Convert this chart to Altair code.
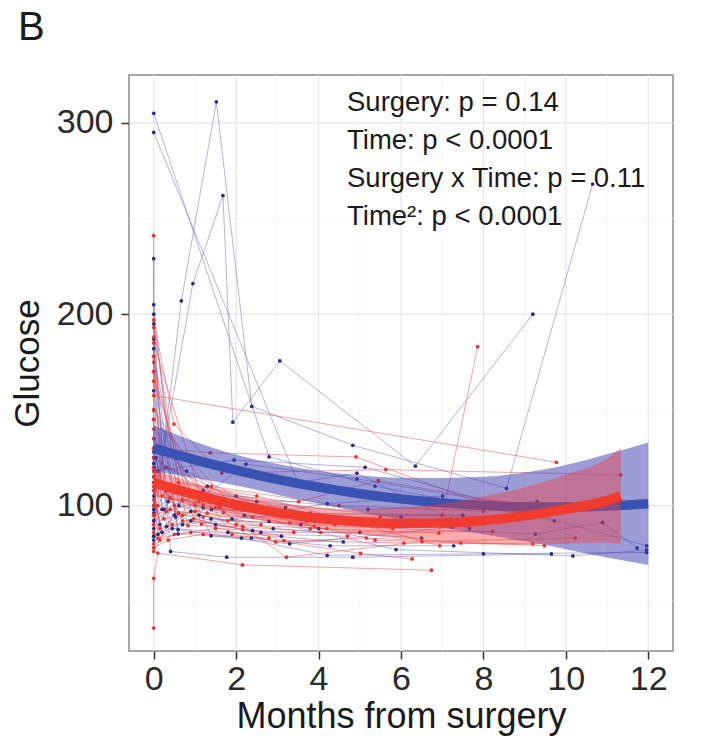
import altair as alt
import pandas as pd

# ---- individual patient trajectories (months, glucose) ----
BLUE_MONTHS = [
    [0, 2.8, 5.37, 9.72],
    [0, 3.5, 4.93, 7.66],
    [0, 0.67, 1.52, 2.38, 4.83, 8.56, 10.65],
    [0, 0.95, 1.68, 1.92, 3.06, 6.35, 9.2],
    [0, 0, 1.95, 5.13, 11.96],
    [0, 0.53, 2.24, 4.93, 9.9],
    [0, 0.31, 1.39, 3.57, 9.26, 10.89, 11.73],
    [0, 0.61, 2.8, 5.88, 10.17, 11.96],
    [0, 0.41, 1.77, 4.83, 9.65],
    [0, 0.59, 2.13, 4.21, 8.0, 11.96],
    [0, 0.59, 2.37, 4.28, 7.28],
    [0, 1.39, 3.3, 7.24],
    [0, 1.9, 4.21, 7.01],
    [0, 1.2, 3.8, 7.5],
    [0, 0.8, 2.0, 5.2, 9.3],
    [0, 0.25, 1.0, 3.2],
    [0, 0.15, 0.5, 2.5, 6.0],
    [0, 0, 1.3, 4.0],
    [0, 0, 0.9, 2.6, 5.0],
    [0, 0.4, 1.6, 3.9, 8.1],
    [0, 0, 0.7, 3.0],
    [0, 0.2, 1.1, 2.9, 6.5],
    [0, 0.1, 0.6, 1.5, 3.1],
    [0, 0.05, 0.45, 1.8, 4.6],
    [0, 0.3, 1.2, 2.2, 5.5],
    [0, 0.2, 0.9, 2.4],
    [0, 0.35, 1.4, 3.0, 8.9],
    [0, 0.1, 0.5],
]
BLUE_GLUCOSE = [
    [305, 125.5, 110.2, 92],
    [295, 112, 116.9, 88],
    [88, 207, 311, 151.8, 131.5, 109, 268],
    [100, 216, 262, 143.6, 175.6, 120.6, 200],
    [229, 118, 123.8, 120, 79],
    [205, 94, 121.6, 113.9, 96],
    [200, 89, 93, 90, 85.1, 91.2, 77.8],
    [195, 100, 91.7, 77, 73.7, 76.8],
    [187, 76, 73, 73, 74.7],
    [178, 87.4, 83, 74, 74.8, 75.5],
    [170, 85.2, 83, 79, 79],
    [150, 84.2, 80, 88.7],
    [135, 93, 101, 105],
    [125, 108, 96, 95],
    [120, 118, 105, 98, 102],
    [112, 98, 105, 99],
    [108, 90, 110, 102, 94],
    [145, 92, 110, 88],
    [128, 84, 97, 86, 86],
    [98, 104, 100, 92, 92],
    [115, 82, 90, 95],
    [105, 86, 95, 88, 83],
    [92, 118, 96, 90, 84],
    [84, 125, 88, 86, 81],
    [96, 108, 99, 95, 90],
    [182, 98, 92, 87],
    [160, 102, 98, 96, 94],
    [122, 85, 95],
]
RED_MONTHS = [
    [0, 9.77],
    [0, 0, 1.37, 4.91, 7.84],
    [0, 0.49, 1.65, 5.63, 11.33],
    [0, 0.69, 3.52, 5.45, 9.9],
    [0, 1.2, 3.8, 6.92, 7.86],
    [0, 0.83, 2.16, 4.05, 8.22],
    [0, 0.97, 2.16, 3.16, 6.07, 9.2],
    [0, 1.16, 2.96, 5.16, 9.48],
    [0, 1.69, 3.22, 6.51, 10.23],
    [0, 1.97, 3.9, 5.37, 7.45],
    [0, 1.9, 5.02, 6.27],
    [0, 0, 0.1, 2.15, 6.74],
    [0, 0.6, 2.5, 6.94],
    [0, 0.3, 1.4, 4.5, 8.0],
    [0, 0.2, 1.0, 3.0, 6.2],
    [0, 0, 0.4, 1.8, 4.4],
    [0, 0.15, 0.7, 2.4, 5.8],
    [0, 0, 0.5, 1.5, 3.4],
    [0, 0, 0.35, 1.2, 2.8],
    [0, 0.25, 1.0, 3.3, 7.2],
    [0, 0, 0.8, 2.2],
    [0, 0.1, 0.9, 4.7],
    [0, 0.05, 0.5, 1.3, 2.6],
    [0, 0.2, 0.7, 2.0, 4.2],
    [0, 0.1, 0.6, 1.6, 3.7],
    [0, 0.3, 1.1, 2.7, 5.5],
    [0, 0.15, 0.45, 1.2],
    [0, 0.4, 1.5, 3.6, 7.0],
]
RED_GLUCOSE = [
    [157.5, 122.6],
    [241, 130, 127.6, 125.4, 102],
    [197, 142.6, 117, 118.8, 116],
    [193, 103, 102, 113, 96.5],
    [185, 100.4, 88, 85.6, 183],
    [178, 89.5, 89, 86, 86.5],
    [170, 93, 87.4, 81.7, 80.4, 80],
    [165, 90.3, 81, 83, 79],
    [150, 96.4, 73, 81.2, 83],
    [145, 98.6, 89, 82, 80.4],
    [140, 85, 75, 72.1],
    [36, 62, 75.2, 69, 66.2],
    [135, 112, 105, 79],
    [125, 120, 110, 100, 97],
    [120, 105, 100, 95, 92],
    [115, 95, 98, 92, 90],
    [110, 88, 95, 94, 88],
    [103, 80, 85, 88, 86],
    [130, 78, 82, 85, 83],
    [100, 93, 97, 91, 93],
    [112, 76, 108, 100],
    [108, 83, 86, 84],
    [95, 118, 100, 96, 90],
    [188, 110, 92, 90, 88],
    [90, 100, 96, 99, 92],
    [86, 97, 102, 96, 94],
    [175, 82, 90, 94],
    [118, 104, 99, 93, 95],
]

# ---- fitted quadratic curves with confidence bands ----
FIT_BLUE_MONTHS = [0, 1, 2, 3, 4, 5, 6, 7, 8, 9, 10, 11, 12]
FIT_BLUE = [130, 123.9, 118.5, 113.7, 109.6, 106.2, 103.5, 101.4, 100.0, 99.3, 99.2, 99.8, 101]
FIT_BLUE_LOW = [118, 114.4, 110.5, 105.7, 101.1, 96.7, 92.5, 88.4, 85, 81.3, 77.2, 72.8, 69]
FIT_BLUE_HIGH = [142, 133.4, 126.5, 121.7, 118.1, 115.7, 114.5, 114.4, 115, 117.3, 121.2, 126.8, 133]

FIT_RED_MONTHS = [0, 1, 2, 3, 4, 5, 6, 7, 8, 9, 10, 11, 11.33]
FIT_RED = [112, 105.7, 100.5, 96.4, 93.4, 91.6, 90.7, 90.9, 92.2, 94.6, 98.1, 102.6, 105]
FIT_RED_LOW = [105, 99.7, 95, 90.9, 87.8, 85.1, 82.7, 80.9, 79.7, 79.6, 80.1, 80.6, 80]
FIT_RED_HIGH = [119, 111.7, 106, 101.9, 99, 98.1, 98.7, 100.9, 104.7, 109.6, 116.1, 124.6, 130]

X_MAJOR = [0, 2, 4, 6, 8, 10, 12]
X_MINOR = [1, 3, 5, 7, 9, 11]
Y_MAJOR = [100, 200, 300]
Y_MINOR = [50, 150, 250]

ANNOTATION = ["Surgery: p = 0.14", "Time: p < 0.0001",
              "Surgery x Time: p = 0.11", "Time\u00b2: p < 0.0001"]
PANEL = "B"

FONT = "Liberation Sans"


def traj_frame(months, glucose, prefix):
    rows = []
    for i, (ms, gs) in enumerate(zip(months, glucose)):
        for j, (m, g) in enumerate(zip(ms, gs)):
            rows.append({"pid": f"{prefix}{i}", "seq": j, "month": m, "glucose": g})
    return pd.DataFrame(rows)


blue_df = traj_frame(BLUE_MONTHS, BLUE_GLUCOSE, "b")
red_df = traj_frame(RED_MONTHS, RED_GLUCOSE, "r")
fit_blue = pd.DataFrame({"month": FIT_BLUE_MONTHS, "fit": FIT_BLUE,
                         "lo": FIT_BLUE_LOW, "hi": FIT_BLUE_HIGH})
fit_red = pd.DataFrame({"month": FIT_RED_MONTHS, "fit": FIT_RED,
                        "lo": FIT_RED_LOW, "hi": FIT_RED_HIGH})

xscale = alt.Scale(domain=[-0.6, 12.6], nice=False, zero=False)
yscale = alt.Scale(domain=[24, 325], nice=False, zero=False)

x_axis = alt.Axis(values=X_MAJOR, title="Months from surgery", grid=False,
                  labelFontSize=34, titleFontSize=36, labelFont=FONT, titleFont=FONT,
                  labelColor="#2a2a2a", titleColor="#1a1a1a", titleFontWeight="normal",
                  tickColor="#333333", tickSize=8, tickWidth=1.5, domain=False,
                  labelPadding=3, titlePadding=3, labelFlush=False)
y_axis = alt.Axis(values=Y_MAJOR, title="Glucose", grid=False,
                  labelFontSize=34, titleFontSize=35, labelFont=FONT, titleFont=FONT,
                  labelColor="#2a2a2a", titleColor="#1a1a1a", titleFontWeight="normal",
                  tickColor="#333333", tickSize=8, tickWidth=1.5, domain=False,
                  labelPadding=8, titlePadding=11, labelFlush=False)

X = alt.X("month:Q", scale=xscale, axis=x_axis)
Y = alt.Y("glucose:Q", scale=yscale, axis=y_axis)

grid_xmaj = alt.Chart(pd.DataFrame({"month": X_MAJOR})).mark_rule(color="#e6e6e6", strokeWidth=1.2).encode(x=X)
grid_xmin = alt.Chart(pd.DataFrame({"month": X_MINOR})).mark_rule(color="#f2f2f2", strokeWidth=0.8).encode(x=X)
grid_ymaj = alt.Chart(pd.DataFrame({"glucose": Y_MAJOR})).mark_rule(color="#e6e6e6", strokeWidth=1.2).encode(y=Y)
grid_ymin = alt.Chart(pd.DataFrame({"glucose": Y_MINOR})).mark_rule(color="#f2f2f2", strokeWidth=0.8).encode(y=Y)

blue_lines = alt.Chart(blue_df).mark_line(color="#5c5cae", strokeWidth=1, opacity=0.45).encode(
    x=X, y=Y, detail="pid:N", order="seq:Q")
red_lines = alt.Chart(red_df).mark_line(color="#f04848", strokeWidth=1, opacity=0.5).encode(
    x=X, y=Y, detail="pid:N", order="seq:Q")
blue_pts = alt.Chart(blue_df).mark_circle(color="#2e2e80", size=14, opacity=1).encode(x=X, y=Y)
red_pts = alt.Chart(red_df).mark_circle(color="#e53530", size=14, opacity=1).encode(x=X, y=Y)

Yfit = alt.Y("fit:Q", scale=yscale, axis=y_axis)
Ylo = alt.Y("lo:Q", scale=yscale, axis=y_axis)

blue_band = alt.Chart(fit_blue).mark_area(color="#3a3ab0", opacity=0.5, interpolate="monotone").encode(
    x=X, y=Ylo, y2="hi:Q")
blue_fit = alt.Chart(fit_blue).mark_line(color="#3a52b2", strokeWidth=9.5, interpolate="monotone",
                                         strokeCap="butt").encode(x=X, y=Yfit)
red_band = alt.Chart(fit_red).mark_area(color="#f03c3c", opacity=0.42, interpolate="monotone").encode(
    x=X, y=Ylo, y2="hi:Q")
red_fit = alt.Chart(fit_red).mark_line(color="#f23b2f", strokeWidth=9.5, interpolate="monotone",
                                       strokeCap="butt").encode(x=X, y=Yfit)

texts = []
for i, line in enumerate(ANNOTATION):
    texts.append(alt.Chart(pd.DataFrame({"t": [line]})).mark_text(
        align="left", baseline="middle", font=FONT, fontSize=27.5, color="#1a1a1a").encode(
        text="t:N", x=alt.value(218), y=alt.value(28 + 38 * i)))

panel_label = alt.Chart(pd.DataFrame({"t": [PANEL]})).mark_text(
    align="left", baseline="middle", font=FONT, fontSize=40, color="#1a1a1a").encode(
    text="t:N", x=alt.value(-111), y=alt.value(-47))

chart = alt.layer(
    grid_xmin, grid_ymin, grid_xmaj, grid_ymaj,
    blue_lines, red_lines, blue_pts, red_pts,
    blue_band, blue_fit, red_band, red_fit,
    *texts, panel_label,
).properties(
    width=544, height=576,
    autosize=alt.AutoSizeParams(type="none"),
    padding={"left": 121, "top": 67, "right": 21, "bottom": 88},
    background="white",
).configure_view(stroke="#8c8c8c", strokeWidth=1.5)

chart.save("out.html", embed_options={"renderer": "svg", "actions": False})
